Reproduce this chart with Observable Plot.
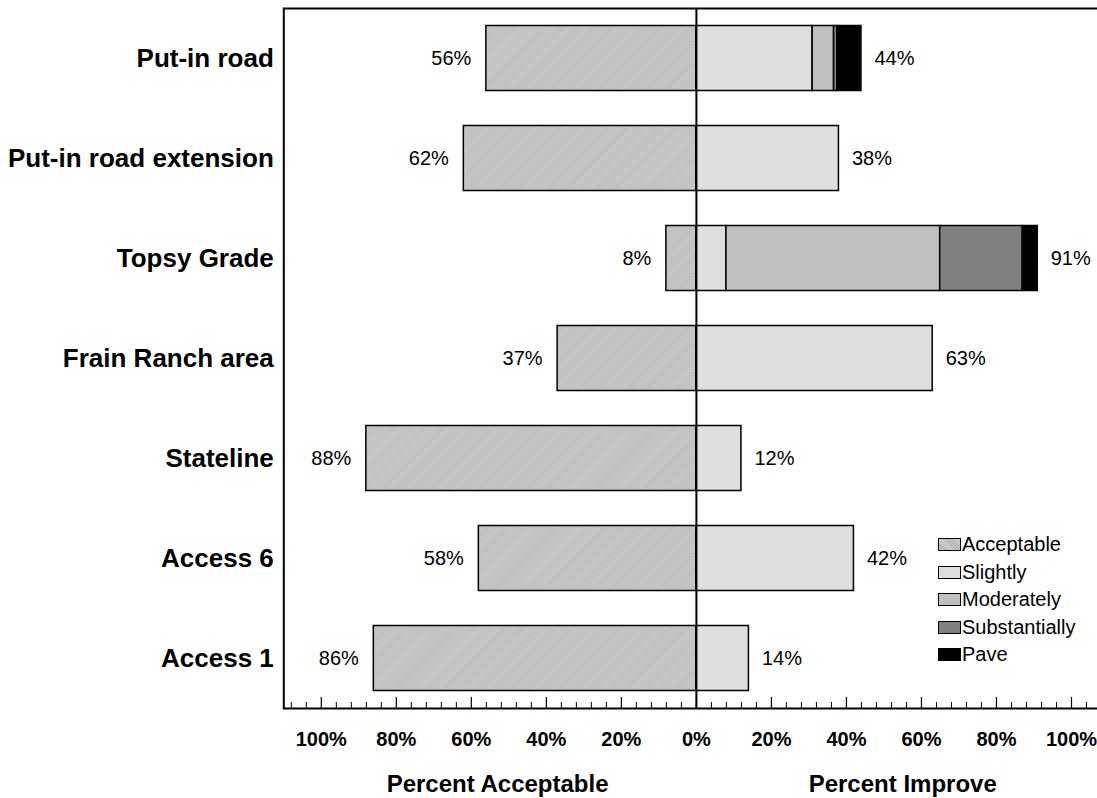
<!DOCTYPE html>
<html>
<head>
<meta charset="utf-8">
<script src="https://cdn.jsdelivr.net/npm/d3@7"></script>
<script src="https://cdn.jsdelivr.net/npm/@observablehq/plot@0.6"></script>
<style>
  html, body { margin: 0; padding: 0; background: white; overflow: hidden; }
  #wrap { position: relative; width: 1097px; height: 798px; font-family: "Liberation Sans", Arial, sans-serif; }
  #legend { position: absolute; left: 938px; top: 531px; font-size: 20px; color: #000; }
  #legend .row { display: flex; align-items: center; height: 27.5px; }
  #legend .sw { width: 21px; height: 11px; border: 1.5px solid #000; margin-right: 1px; }
</style>
</head>
<body>
<div id="wrap"></div>
<script>
// ---- data ----
const categories = ["Put-in road", "Put-in road extension", "Topsy Grade", "Frain Ranch area", "Stateline", "Access 6", "Access 1"];
const acceptable    = [56, 62, 8, 37, 88, 58, 86];
const slightly      = [31, 38, 8, 63, 12, 42, 14];
const moderately    = [5.7, 0, 57, 0, 0, 0, 0];
const substantially = [0.9, 0, 22, 0, 0, 0, 0];
const pave          = [6.4, 0, 4, 0, 0, 0, 0];
const improveLabels = [44, 38, 91, 63, 12, 42, 14];
const seriesNames = ["Acceptable", "Slightly", "Moderately", "Substantially", "Pave"];
const majorTicks = [-100, -80, -60, -40, -20, 0, 20, 40, 60, 80, 100];
const axisTitles = ["Percent Acceptable", "Percent Improve"];

const colors = ["url(#hatch)", "#dedede", "#bfbfbf", "#808080", "#000000"];

// long table for stacking (acceptable drawn to the negative side)
const seriesValues = [acceptable.map(v => -v), slightly, moderately, substantially, pave];
const rows = [];
categories.forEach((c, i) => {
  seriesNames.forEach((s, k) => {
    const v = seriesValues[k][i];
    if (v !== 0) rows.push({cat: c, series: s, value: v});
  });
});
const labelRows = categories.map((c, i) => ({cat: c, acc: acceptable[i], imp: improveLabels[i]}));

const minorTicks = d3.range(-108, 109, 4).filter(t => t % 20 !== 0);

const plot = Plot.plot({
  width: 1097,
  height: 798,
  marginLeft: 283.3,
  marginRight: -11.5,
  marginTop: 8,
  marginBottom: 90,
  style: {fontFamily: '"Liberation Sans", Arial, sans-serif', color: "#000", background: "white"},
  x: {domain: [-110, 110]},
  y: {domain: categories, padding: 0},
  color: {domain: seriesNames, range: colors},
  marks: [
    Plot.barX(rows, Plot.stackX({
      x: "value", y: "cat", fill: "series", order: seriesNames,
      stroke: "#000", strokeWidth: 1.5, insetTop: 17.5, insetBottom: 17.5
    })),
    Plot.ruleX([0], {stroke: "#000", strokeWidth: 2}),
    Plot.text(labelRows, {x: d => -d.acc, y: "cat", text: d => d.acc + "%", textAnchor: "end", dx: -15, fontSize: 20, fill: "#000"}),
    Plot.text(labelRows, {x: "imp", y: "cat", text: d => d.imp + "%", textAnchor: "start", dx: 13, fontSize: 20, fill: "#000"}),
    Plot.ruleX(majorTicks, {stroke: "#000", strokeWidth: 1.2, insetTop: 689}),
    Plot.ruleX(minorTicks, {stroke: "#000", strokeWidth: 1, insetTop: 694}),
    Plot.frame({stroke: "#000", strokeWidth: 2}),
    Plot.axisY({tickSize: 0, tickPadding: 10, fontSize: 26, fontWeight: "bold", label: null}),
    Plot.axisX({ticks: majorTicks, tickSize: 0, tickPadding: 23, tickFormat: d => Math.abs(d) + "%", fontSize: 20, fontWeight: "bold", label: null}),
    Plot.text(axisTitles, {x: (d, i) => i === 0 ? -53 : 55, frameAnchor: "bottom", dy: 76, text: d => d, fontSize: 24, fontWeight: "bold", lineAnchor: "middle", fill: "#000"})
  ]
});

// fine hatch pattern for "Acceptable"
const defs = d3.select(plot).insert("defs", ":first-child");
const pat = defs.append("pattern").attr("id", "hatch").attr("patternUnits", "userSpaceOnUse")
  .attr("width", 2).attr("height", 2).attr("patternTransform", "rotate(45)");
pat.append("rect").attr("width", 2).attr("height", 2).attr("fill", "#d4d4d4");
pat.append("line").attr("x1", 0.5).attr("y1", 0).attr("x2", 0.5).attr("y2", 2).attr("stroke", "#b2b2b2").attr("stroke-width", 1);

const wrap = document.getElementById("wrap");
wrap.appendChild(plot);

// legend
const legend = document.createElement("div");
legend.id = "legend";
const swatchCss = ["repeating-linear-gradient(45deg, #b2b2b2 0 1px, #d4d4d4 1px 2px)", "#dedede", "#bfbfbf", "#808080", "#000000"];
seriesNames.forEach((s, k) => {
  const row = document.createElement("div");
  row.className = "row";
  const sw = document.createElement("div");
  sw.className = "sw";
  sw.style.background = swatchCss[k];
  const t = document.createElement("span");
  t.textContent = s;
  row.appendChild(sw);
  row.appendChild(t);
  legend.appendChild(row);
});
wrap.appendChild(legend);
</script>
</body>
</html>
